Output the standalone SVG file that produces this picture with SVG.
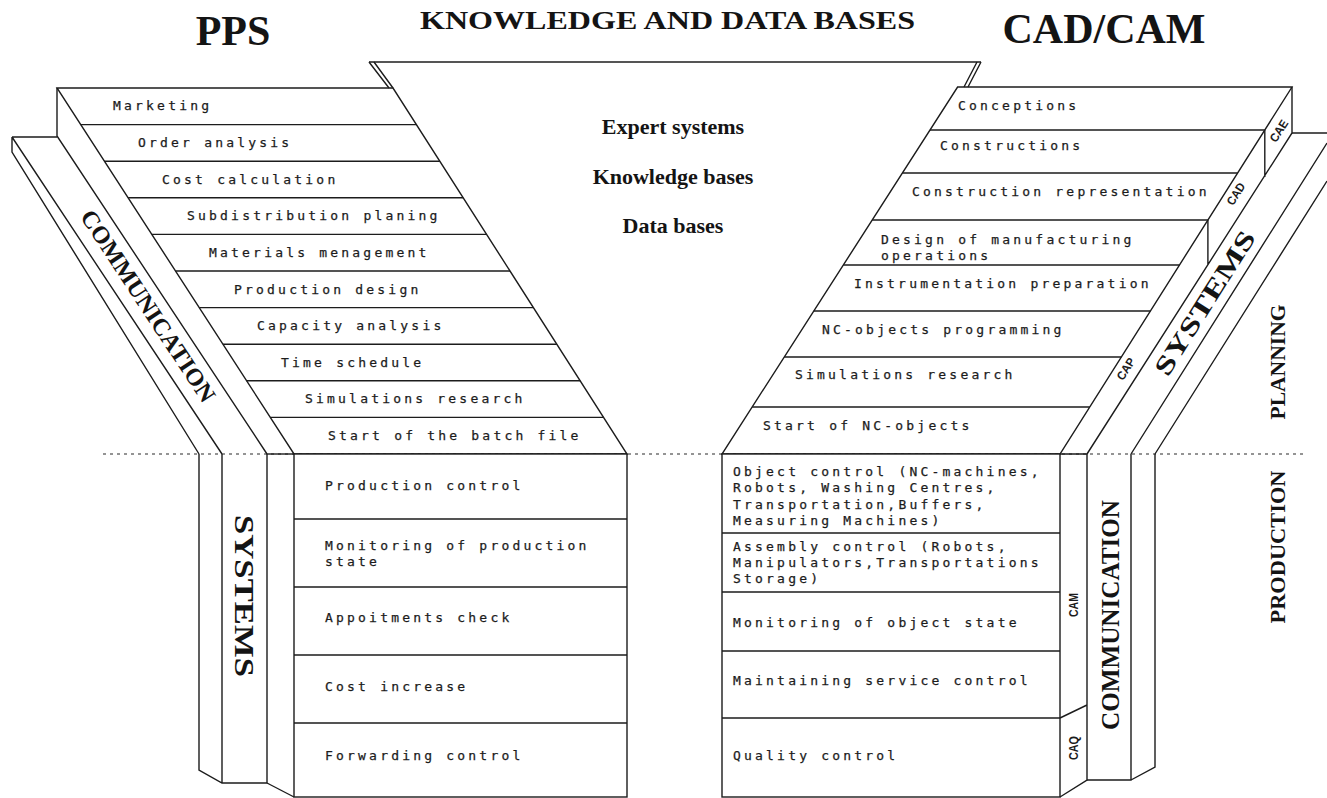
<svg xmlns="http://www.w3.org/2000/svg" width="1327" height="798" viewBox="0 0 1327 798">
<style>
  .ln{fill:none;stroke:#1c1c1c;stroke-width:1.4;stroke-linejoin:miter}
  .bx{fill:#fff;stroke:#1c1c1c;stroke-width:1.4}
  .dot{fill:none;stroke:#2a2a2a;stroke-width:1.2;stroke-dasharray:3 4}
  .t{font-family:"DejaVu Sans Mono","Liberation Mono",monospace;font-size:13px;letter-spacing:3.2px;fill:#1c1c1c;stroke:#1c1c1c;stroke-width:0.25}
  .h{font-family:"Liberation Serif","Times New Roman",serif;font-weight:bold;fill:#141414}
  .s{font-family:"Liberation Sans",Arial,sans-serif;font-weight:bold;font-size:12px;fill:#1c1c1c}
</style>
<rect width="1327" height="798" fill="#fff"/>

<!-- production / planning divider -->
<g id="connectors">
  <path class="dot" d="M103,454 H1305"/>
</g>

<!-- headings -->
<g id="titles">
  <text class="h" x="233" y="45" font-size="42" text-anchor="middle">PPS</text>
  <text class="h" x="420" y="29" font-size="25" textLength="495" lengthAdjust="spacingAndGlyphs">KNOWLEDGE AND DATA BASES</text>
  <text class="h" x="1104" y="43" font-size="42" text-anchor="middle">CAD/CAM</text>
</g>

<!-- central knowledge funnel -->
<g id="funnel">
  <path class="ln" d="M369,62 H981"/>
  <path class="ln" d="M369,62 L389,88 M374,62 L393,88"/>
  <path class="ln" d="M977,62 L964,87 M981,62 L968,87"/>
  <text class="h" x="673" y="134" font-size="22" text-anchor="middle">Expert systems</text>
  <text class="h" x="673" y="184" font-size="22" text-anchor="middle">Knowledge bases</text>
  <text class="h" x="673" y="233" font-size="22" text-anchor="middle">Data bases</text>
</g>

<!-- PPS planning stack -->
<g id="pps-stack">
  <path class="ln" d="M57,88 L393,88 L627,454 L294,454 Z"/>
  <path class="ln" d="M80.7,124.6 H416.4 M104.4,161.2 H439.8 M128.1,197.8 H463.2 M151.8,234.4 H486.6 M175.5,271 H510 M199.2,307.6 H533.4 M222.9,344.2 H556.8 M246.6,380.8 H580.2 M270.3,417.4 H603.6"/>
  <text class="t" x="113" y="110">Marketing</text>
  <text class="t" x="138" y="147">Order analysis</text>
  <text class="t" x="162" y="184">Cost calculation</text>
  <text class="t" x="187" y="220">Subdistribution planing</text>
  <text class="t" x="209" y="257">Materials menagement</text>
  <text class="t" x="234" y="294">Production design</text>
  <text class="t" x="257" y="330">Capacity analysis</text>
  <text class="t" x="281" y="367">Time schedule</text>
  <text class="t" x="305" y="403">Simulations research</text>
  <text class="t" x="328" y="440">Start of the batch file</text>
</g>

<!-- PPS side face -->
<g id="pps-side">
  <path class="ln" d="M57,88 V136 L267,454"/>
  <path class="ln" d="M267,454 H294"/>
</g>

<!-- left communication band -->
<g id="communication-left">
  <path class="ln" d="M12,137 H57 M12,137 V152 L199,454 M12,137 L222,454"/>
  <text class="h" font-size="24" text-anchor="middle" dominant-baseline="central" textLength="225" lengthAdjust="spacingAndGlyphs" transform="translate(148,306) rotate(56.6)">COMMUNICATION</text>
</g>

<!-- left systems column -->
<g id="systems-left">
  <path class="ln" d="M199,454 V770 L222,783 H267 V454 M222,454 V783"/>
  <text class="h" font-size="27" text-anchor="middle" dominant-baseline="central" textLength="162" lengthAdjust="spacingAndGlyphs" transform="translate(244,596) rotate(90)">SYSTEMS</text>
</g>

<!-- PPS production box -->
<g id="pps-production">
  <path class="ln" d="M267,783 L294,797"/>
  <rect class="bx" x="294" y="454" width="333" height="343"/>
  <path class="ln" d="M294,519 H627 M294,587 H627 M294,655 H627 M294,723 H627"/>
  <text class="t" x="325" y="490">Production control</text>
  <text class="t" x="325" y="550">Monitoring of production</text>
  <text class="t" x="325" y="566">state</text>
  <text class="t" x="325" y="622">Appoitments check</text>
  <text class="t" x="325" y="691">Cost increase</text>
  <text class="t" x="325" y="760">Forwarding control</text>
</g>

<!-- CAD/CAM planning stack -->
<g id="cad-stack">
  <path class="ln" d="M957.6,87 L1292,87 L1060,454 L722,454 Z"/>
  <path class="ln" d="M930,130 H1264.8 M902.4,173 H1237.6 M872.3,220 H1207.9 M843.4,265 H1179.5 M813.8,311 H1150.4 M784.3,357 H1121.4 M752.2,407 H1089.8"/>
  <text class="t" x="958" y="110">Conceptions</text>
  <text class="t" x="940" y="150">Constructions</text>
  <text class="t" x="912" y="196">Construction representation</text>
  <text class="t" x="881" y="244">Design of manufacturing</text>
  <text class="t" x="881" y="260">operations</text>
  <text class="t" x="854" y="288">Instrumentation preparation</text>
  <text class="t" x="822" y="334">NC-objects programming</text>
  <text class="t" x="795" y="379">Simulations research</text>
  <text class="t" x="763" y="430">Start of NC-objects</text>
</g>

<!-- CAE / CAD / CAP side face -->
<g id="cad-side">
  <path class="ln" d="M1292,87 V133 L1087,454 M1264.8,130 V177 M1207.9,220 V265 M1060,454 H1087"/>
  <text class="s" text-anchor="middle" dominant-baseline="central" textLength="24" lengthAdjust="spacingAndGlyphs" transform="translate(1279,131) rotate(-57.6)">CAE</text>
  <text class="s" text-anchor="middle" dominant-baseline="central" textLength="24" lengthAdjust="spacingAndGlyphs" transform="translate(1236,194) rotate(-57.6)">CAD</text>
  <text class="s" text-anchor="middle" dominant-baseline="central" textLength="24" lengthAdjust="spacingAndGlyphs" transform="translate(1126,369) rotate(-57.6)">CAP</text>
</g>

<!-- right systems band -->
<g id="systems-right">
  <path class="ln" d="M1292,133 H1327 M1131,454 L1327,143 M1155,454 L1327,181"/>
  <text class="h" font-size="26" text-anchor="middle" dominant-baseline="central" textLength="166" lengthAdjust="spacingAndGlyphs" transform="translate(1205,303) rotate(-57.6)">SYSTEMS</text>
</g>

<!-- CAM production box -->
<g id="cam-production">
  <rect class="bx" x="722" y="454" width="338" height="343"/>
  <path class="ln" d="M722,533 H1060 M722,592 H1060 M722,651 H1060 M722,718 H1060"/>
  <text class="t" x="733" y="476">Object control (NC-machines,</text>
  <text class="t" x="733" y="492">Robots, Washing Centres,</text>
  <text class="t" x="733" y="509">Transportation,Buffers,</text>
  <text class="t" x="733" y="525">Measuring Machines)</text>
  <text class="t" x="733" y="551">Assembly control (Robots,</text>
  <text class="t" x="733" y="567">Manipulators,Transportations</text>
  <text class="t" x="733" y="583">Storage)</text>
  <text class="t" x="733" y="627">Monitoring of object state</text>
  <text class="t" x="733" y="685">Maintaining service control</text>
  <text class="t" x="733" y="760">Quality control</text>
</g>

<!-- CAM / CAQ side face -->
<g id="cam-side">
  <path class="ln" d="M1060,797 L1087,780 V454 M1060,718 L1087,705"/>
  <text class="s" text-anchor="middle" dominant-baseline="central" textLength="24" lengthAdjust="spacingAndGlyphs" transform="translate(1074,605) rotate(-90)">CAM</text>
  <text class="s" text-anchor="middle" dominant-baseline="central" textLength="24" lengthAdjust="spacingAndGlyphs" transform="translate(1074,748) rotate(-90)">CAQ</text>
</g>

<!-- right communication column -->
<g id="communication-right">
  <path class="ln" d="M1087,780 H1131 V454 M1131,780 L1155,767 V454"/>
  <text class="h" font-size="25" text-anchor="middle" dominant-baseline="central" textLength="230" lengthAdjust="spacingAndGlyphs" transform="translate(1110,615) rotate(-90)">COMMUNICATION</text>
</g>

<!-- phase labels -->
<g id="phases">
  <text class="h" font-size="22" text-anchor="middle" dominant-baseline="central" textLength="115" lengthAdjust="spacingAndGlyphs" transform="translate(1277,362) rotate(-90)">PLANNING</text>
  <text class="h" font-size="22" text-anchor="middle" dominant-baseline="central" textLength="153" lengthAdjust="spacingAndGlyphs" transform="translate(1277,547) rotate(-90)">PRODUCTION</text>
</g>
</svg>
